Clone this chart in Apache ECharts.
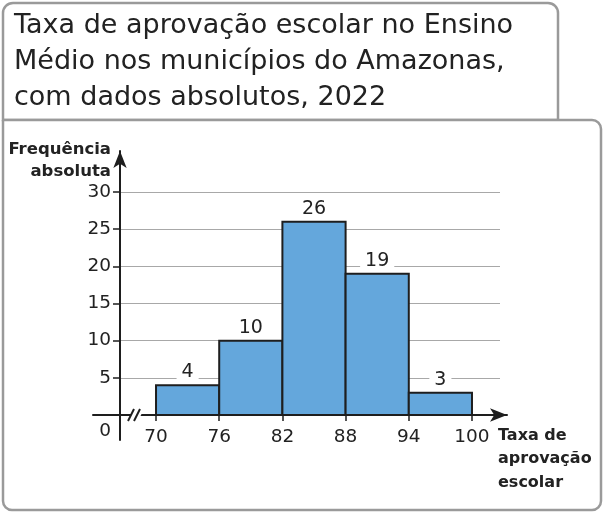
<!DOCTYPE html>
<html>
<head>
<meta charset="utf-8">
<script src="https://cdn.jsdelivr.net/npm/echarts@6/dist/echarts.min.js"></script>
<style>
  html, body { margin: 0; padding: 0; background: #fff; }
  #chart { width: 603px; height: 513px; }
</style>
</head>
<body>
<div id="chart"></div>
<script>
// classes da taxa de aprovação (limites) e frequências
var binEdges = [70, 76, 82, 88, 94, 100];
var frequencies = [4, 10, 26, 19, 3];
var yTicks = [0, 5, 10, 15, 20, 25, 30];
var breakAt = [68.1, 0];
var titleLines = ['Taxa de aprovação escolar no Ensino', 'Médio nos municípios do Amazonas,', 'com dados absolutos, 2022'];

var font = '"DejaVu Sans", "Noto Sans", sans-serif';
var barFill = '#64a7dc';
var ink = '#1e1e1e';

var histData = [];
for (var i = 0; i < frequencies.length; i++) {
    histData.push([binEdges[i], binEdges[i + 1], frequencies[i]]);
}

var chart = echarts.init(document.getElementById('chart'), null, { renderer: 'canvas' });

chart.setOption({
    animation: false,
    grid: [
        // área do histograma
        { left: 120, top: 192, right: 103, bottom: 98 },
        // eixos com setas
        { left: 93, top: 151, right: 96, bottom: 73 }
    ],
    xAxis: [{
        gridIndex: 0,
        type: 'value',
        min: 66.58,
        max: 102.66,
        axisLine: { show: false },
        axisTick: { show: true, customValues: binEdges, length: 6, lineStyle: { color: ink, width: 1.5 } },
        axisLabel: { customValues: binEdges, color: '#222', fontFamily: font, fontSize: 18.5, margin: 13 },
        splitLine: { show: false }
    }, {
        gridIndex: 1,
        type: 'value',
        min: 0,
        max: 414,
        axisLine: { onZero: true, symbol: ['none', 'arrow'], symbolSize: [10, 17], lineStyle: { color: ink, width: 2 } },
        axisTick: { show: false },
        axisLabel: { show: false },
        splitLine: { show: false }
    }],
    yAxis: [{
        gridIndex: 0,
        type: 'value',
        min: yTicks[0],
        max: yTicks[yTicks.length - 1],
        interval: 5,
        axisLine: { show: false },
        axisTick: { show: true, length: 7, lineStyle: { color: ink, width: 1.5 } },
        axisLabel: {
            color: '#222', fontFamily: font, fontSize: 18.5, margin: 9,
            formatter: function (v) { return v === 0 ? '{z|0}' : String(v); },
            rich: { z: { padding: [32, 0, 0, 0], fontSize: 18.5, fontFamily: font, color: '#222' } }
        },
        splitLine: { show: true, lineStyle: { color: '#a8a8a8', width: 1 } }
    }, {
        gridIndex: 1,
        type: 'value',
        min: -25,
        max: 264,
        offset: -27,
        axisLine: { onZero: false, symbol: ['none', 'arrow'], symbolSize: [10, 17], lineStyle: { color: ink, width: 2 } },
        axisTick: { show: false },
        axisLabel: { show: false },
        splitLine: { show: false }
    }],
    graphic: [
        {
            id: 'titleBox', type: 'rect', z: -10,
            shape: { x: 3, y: 3, width: 555, height: 117, r: [10, 10, 0, 0] },
            style: { fill: '#fff', stroke: '#9a9a9a', lineWidth: 2.5 }
        },
        {
            id: 'chartBox', type: 'rect', z: -10,
            shape: { x: 3, y: 120, width: 598, height: 390, r: [0, 9, 9, 9] },
            style: { fill: '#fff', stroke: '#9a9a9a', lineWidth: 2.5 }
        },
        {
            id: 'title', type: 'text', x: 14, y: 8,
            style: { text: titleLines.join('\n'), fontFamily: font, fontSize: 27, fill: '#222', lineHeight: 36 }
        },
        {
            id: 'yName', type: 'text', z: 10, x: 111, y: 139,
            style: { text: 'Frequência\nabsoluta', align: 'right', fontFamily: font, fontWeight: 'bold', fontSize: 16.5, fill: '#222', lineHeight: 22 }
        },
        {
            id: 'xName', type: 'text', z: 10, x: 498, y: 424,
            style: { text: 'Taxa de\naprovação\nescolar', align: 'left', fontFamily: font, fontWeight: 'bold', fontSize: 16, fill: '#222', lineHeight: 23.5 }
        }
    ],
    series: [{
        type: 'custom',
        xAxisIndex: 0,
        yAxisIndex: 0,
        clip: false,
        data: histData,
        renderItem: function (params, api) {
            var topLeft = api.coord([api.value(0), api.value(2)]);
            var bottomRight = api.coord([api.value(1), 0]);
            var midX = (topLeft[0] + bottomRight[0]) / 2;
            return {
                type: 'group',
                children: [{
                    type: 'rect',
                    shape: { x: topLeft[0], y: topLeft[1], width: bottomRight[0] - topLeft[0], height: bottomRight[1] - topLeft[1] },
                    style: { fill: barFill, stroke: ink, lineWidth: 2 }
                }, {
                    type: 'text',
                    style: {
                        x: midX, y: topLeft[1] - 13, text: String(api.value(2)),
                        align: 'center', verticalAlign: 'middle',
                        fontFamily: font, fontSize: 19, fill: '#222',
                        backgroundColor: '#fff', padding: [0, 5]
                    }
                }]
            };
        }
    }, {
        // marca de quebra do eixo x entre a origem e 70
        type: 'custom',
        xAxisIndex: 0,
        yAxisIndex: 0,
        clip: false,
        z: 20,
        silent: true,
        data: [breakAt],
        renderItem: function (params, api) {
            var p = api.coord([api.value(0), api.value(1)]);
            return {
                type: 'group', x: p[0], y: p[1],
                children: [
                    { type: 'polygon', shape: { points: [[-8, 6], [-2, -6], [8, -6], [2, 6]] }, style: { fill: '#fff' } },
                    { type: 'line', shape: { x1: -8, y1: 6, x2: -2, y2: -6 }, style: { stroke: ink, lineWidth: 2 } },
                    { type: 'line', shape: { x1: -2, y1: 6, x2: 4, y2: -6 }, style: { stroke: ink, lineWidth: 2 } }
                ]
            };
        }
    }]
});
</script>
</body>
</html>
